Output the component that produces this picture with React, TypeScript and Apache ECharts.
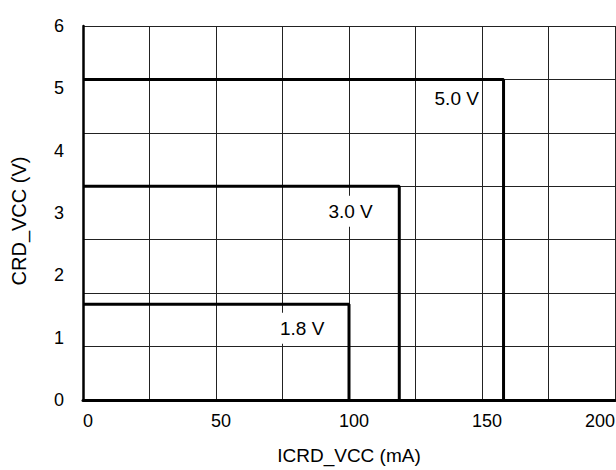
import React, { useEffect, useRef } from "react";
import * as echarts from "echarts";

const xTickLabels = [0, 50, 100, 150, 200];
const yTickLabels = [0, 1, 2, 3, 4, 5, 6];

const curveNames = ["1.8 V", "3.0 V", "5.0 V"];
const curveCurrents = [100, 118.9, 158.1]; // mA (vertical edge)
const curveVoltages = [1.535, 3.428, 5.143]; // V (horizontal edge)

const annotationX = [82.4, 100.6, 140.5];
const annotationY = [1.15, 3.03, 4.83];

const FONT = "'Liberation Sans', Arial, Helvetica, sans-serif";

export default function App() {
  const ref = useRef<HTMLDivElement>(null);

  useEffect(() => {
    if (!ref.current) return;
    const chart = echarts.init(ref.current, undefined, { renderer: "svg" });

    const lineSeries = curveNames.map((name, i) => ({
      name,
      type: "line",
      yAxisIndex: 0,
      symbol: "none",
      z: 3,
      lineStyle: { color: "#000", width: 3 },
      data: [
        [0, curveVoltages[i]],
        [curveCurrents[i], curveVoltages[i]],
        [curveCurrents[i], 0],
      ],
    }));

    const labelSeries = {
      type: "scatter",
      yAxisIndex: 0,
      symbol: "circle",
      symbolSize: 1,
      z: 5,
      itemStyle: { color: "rgba(0,0,0,0)", opacity: 1 },
      label: {
        show: true,
        position: "inside",
        formatter: (p: any) => p.value[2],
        color: "#000",
        opacity: 1,
        fontSize: 19,
        fontFamily: FONT,
        backgroundColor: "#fff",
        padding: [6, 3],
      },
      data: curveNames.map((n, i) => [annotationX[i], annotationY[i], n]),
    };

    chart.setOption({
      animation: false,
      backgroundColor: "#fff",
      textStyle: { fontFamily: FONT },
      grid: {
        left: 83,
        right: 1,
        top: 26,
        bottom: 70,
        containLabel: false,
        outerBoundsMode: "none",
      },
      xAxis: {
        type: "value",
        min: 0,
        max: 200,
        interval: 25,
        name: "ICRD_VCC (mA)",
        nameLocation: "middle",
        nameGap: 46,
        nameTextStyle: { fontSize: 19, color: "#000", fontFamily: FONT },
        axisLine: { show: true, lineStyle: { color: "#000", width: 3 } },
        axisTick: { show: false },
        axisLabel: {
          fontSize: 18,
          color: "#000",
          fontFamily: FONT,
          margin: 12,
          padding: [0, 0, 0, 10],
          alignMaxLabel: "right",
          formatter: (v: number) => (xTickLabels.includes(v) ? String(v) : ""),
        },
        splitLine: { show: true, lineStyle: { color: "#222", width: 1 } },
      },
      yAxis: [
        {
          type: "value",
          min: 0,
          max: 6,
          interval: 1,
          position: "left",
          name: "CRD_VCC (V)",
          nameLocation: "middle",
          nameGap: 54,
          nameTextStyle: {
            fontSize: 20,
            color: "#000",
            fontFamily: FONT,
            padding: [0, 16, 0, 0],
          },
          axisLine: { show: true, lineStyle: { color: "#000", width: 2.5 } },
          axisTick: { show: false },
          axisLabel: {
            fontSize: 18,
            color: "#000",
            fontFamily: FONT,
            margin: 19,
            formatter: (v: number) => (yTickLabels.includes(v) ? String(v) : ""),
          },
          splitLine: { show: false },
          z: 4,
        },
        {
          type: "value",
          min: 0,
          max: 7,
          interval: 1,
          position: "right",
          axisLine: { show: false },
          axisTick: { show: false },
          axisLabel: { show: false },
          splitLine: { show: true, lineStyle: { color: "#222", width: 1 } },
        },
      ],
      series: [...lineSeries, labelSeries],
    });

    return () => chart.dispose();
  }, []);

  return (
    <div
      ref={ref}
      style={{ position: "absolute", left: 0, top: 0, width: 616, height: 470 }}
    />
  );
}
